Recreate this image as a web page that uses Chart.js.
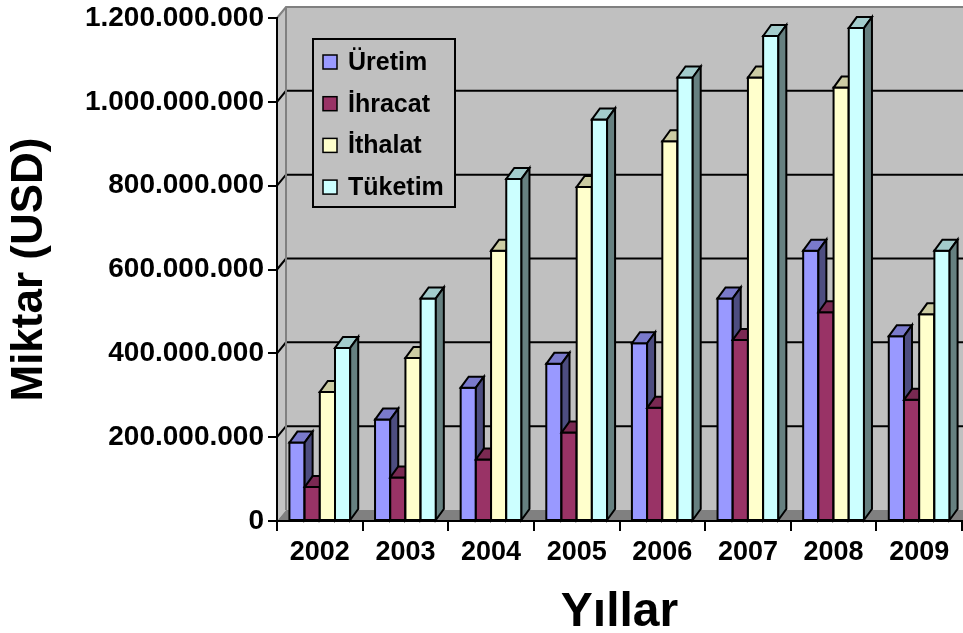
<!DOCTYPE html>
<html lang="tr">
<head>
<meta charset="utf-8">
<title>Miktar (USD) – Yıllar</title>
<script src="https://cdn.jsdelivr.net/npm/chart.js@4/dist/chart.umd.min.js"></script>
<style>
  html, body { margin: 0; padding: 0; background: #ffffff; overflow: hidden; }
  #wrap { width: 963px; height: 633px; position: relative; }
  canvas { display: block; }
</style>
</head>
<body>
<div id="wrap"><canvas id="chart" width="963" height="633"></canvas></div>
<script>
// Yıllar
const categories = ['2002', '2003', '2004', '2005', '2006', '2007', '2008', '2009'];

// Değerler (USD)
const uretim  = [187000000, 242000000, 318000000, 375000000, 424000000, 531000000, 645000000, 441000000];
const ihracat = [ 81000000, 104000000, 147000000, 211000000, 270000000, 432000000, 498000000, 289000000];
const ithalat = [308000000, 389000000, 645000000, 797000000, 906000000, 1058000000, 1034000000, 493000000];
const tuketim = [413000000, 531000000, 816000000, 958000000, 1058000000, 1157000000, 1176000000, 645000000];

const seriesNames = ['Üretim', 'İhracat', 'İthalat', 'Tüketim'];

// Y ekseni etiketleri
const yTickLabels = ['0', '200.000.000', '400.000.000', '600.000.000', '800.000.000', '1.000.000.000', '1.200.000.000'];

// Renkler: ön yüz, üst yüz, yan yüz
const faceColors = [
  { front: '#9999FF', top: '#7A7ACC', side: '#4D4D80' },
  { front: '#993366', top: '#7A2952', side: '#4D1A33' },
  { front: '#FFFFCC', top: '#CCCCA3', side: '#808066' },
  { front: '#CCFFFF', top: '#A3CCCC', side: '#668080' }
];

const FONT = "'Liberation Sans', Arial, Helvetica, sans-serif";
Chart.defaults.font.family = FONT;
Chart.defaults.color = '#000';

// Derinlik kaydırmaları (duvar ve sütunlar)
const WALL_DX = 9, WALL_DY = -11;
const BAR_DX = 8, BAR_DY = -11;

const wallPlugin = {
  id: 'wall3d',
  beforeDraw(chart) {
    const { ctx, chartArea } = chart;
    const { left, top, bottom } = chartArea;
    const W = chart.width;
    const yScale = chart.scales.y;
    ctx.save();
    ctx.fillStyle = '#ffffff';
    ctx.fillRect(0, 0, chart.width, chart.height);

    // arka duvar
    ctx.fillStyle = '#C0C0C0';
    ctx.fillRect(left + WALL_DX, top + WALL_DY, W - left - WALL_DX, bottom - top);

    // sol duvar
    ctx.beginPath();
    ctx.moveTo(left, top);
    ctx.lineTo(left + WALL_DX, top + WALL_DY);
    ctx.lineTo(left + WALL_DX, bottom + WALL_DY);
    ctx.lineTo(left, bottom);
    ctx.closePath();
    ctx.fillStyle = '#C4C4C4';
    ctx.fill();

    // taban
    ctx.beginPath();
    ctx.moveTo(left, bottom);
    ctx.lineTo(left + WALL_DX, bottom + WALL_DY);
    ctx.lineTo(W, bottom + WALL_DY);
    ctx.lineTo(W, bottom);
    ctx.closePath();
    ctx.fillStyle = '#808080';
    ctx.fill();

    // kılavuz çizgileri
    ctx.lineWidth = 2;
    ctx.strokeStyle = '#000';
    yScale.ticks.forEach((t) => {
      if (t.value <= yScale.min || t.value >= yScale.max) return;
      const y = yScale.getPixelForValue(t.value);
      ctx.beginPath();
      ctx.moveTo(left, y);
      ctx.lineTo(left + WALL_DX, y + WALL_DY);
      ctx.lineTo(W, y + WALL_DY);
      ctx.stroke();
    });

    // duvar kenarları
    ctx.strokeStyle = '#808080';
    ctx.lineWidth = 2;
    ctx.beginPath();
    ctx.moveTo(left, top);
    ctx.lineTo(left + WALL_DX, top + WALL_DY);
    ctx.lineTo(W, top + WALL_DY);
    ctx.stroke();
    ctx.beginPath();
    ctx.moveTo(left + WALL_DX, top + WALL_DY);
    ctx.lineTo(left + WALL_DX, bottom + WALL_DY);
    ctx.stroke();
    ctx.restore();
  },

  // sütunlar: ön, üst ve yan yüzler
  beforeDatasetsDraw(chart) {
    const ctx = chart.ctx;
    const n = chart.data.labels.length;
    ctx.save();
    ctx.lineWidth = 2;
    ctx.lineJoin = 'miter';
    ctx.strokeStyle = '#000';
    for (let i = 0; i < n; i++) {
      chart.data.datasets.forEach((ds, d) => {
        const el = chart.getDatasetMeta(d).data[i];
        if (!el) return;
        const { x, y, base, width } = el.getProps(['x', 'y', 'base', 'width'], true);
        const l = x - width / 2, r = x + width / 2;
        const c = faceColors[d];

        // ön yüz
        ctx.beginPath();
        ctx.rect(l, y, r - l, base - y);
        ctx.fillStyle = c.front;
        ctx.fill();
        ctx.stroke();

        // üst yüz
        ctx.beginPath();
        ctx.moveTo(l, y);
        ctx.lineTo(l + BAR_DX, y + BAR_DY);
        ctx.lineTo(r + BAR_DX, y + BAR_DY);
        ctx.lineTo(r, y);
        ctx.closePath();
        ctx.fillStyle = c.top;
        ctx.fill();
        ctx.stroke();

        // yan yüz
        ctx.beginPath();
        ctx.moveTo(r, y);
        ctx.lineTo(r + BAR_DX, y + BAR_DY);
        ctx.lineTo(r + BAR_DX, base + BAR_DY);
        ctx.lineTo(r, base);
        ctx.closePath();
        ctx.fillStyle = c.side;
        ctx.fill();
        ctx.stroke();
      });
    }
    ctx.restore();
    return false;
  },

  // gösterge kutusu
  afterDraw(chart) {
    const ctx = chart.ctx;
    const bx = 313, by = 39, bw = 142, bh = 168;
    ctx.save();
    ctx.fillStyle = '#C0C0C0';
    ctx.fillRect(bx, by, bw, bh);
    ctx.lineWidth = 2;
    ctx.strokeStyle = '#000';
    ctx.strokeRect(bx, by, bw, bh);
    ctx.font = 'bold 25px ' + FONT;
    ctx.textBaseline = 'middle';
    ctx.textAlign = 'left';
    chart.data.datasets.forEach((ds, d) => {
      const cy = 62 + d * 41.7;
      ctx.fillStyle = faceColors[d].front;
      ctx.fillRect(323, cy - 7, 14, 14);
      ctx.lineWidth = 1.5;
      ctx.strokeRect(323, cy - 7, 14, 14);
      ctx.fillStyle = '#000';
      ctx.fillText(ds.label, 348, cy + 1);
    });
    ctx.restore();
  }
};

const seriesValues = [uretim, ihracat, ithalat, tuketim];

new Chart(document.getElementById('chart'), {
  type: 'bar',
  data: {
    labels: categories,
    datasets: seriesValues.map((vals, d) => ({
      label: seriesNames[d],
      data: vals,
      backgroundColor: faceColors[d].front,
      borderColor: '#000',
      borderWidth: 2,
      categoryPercentage: 0.71,
      barPercentage: 1.0
    }))
  },
  options: {
    responsive: false,
    animation: false,
    devicePixelRatio: 1,
    layout: { padding: { left: 0, top: 15, right: 1, bottom: 0 } },
    plugins: {
      legend: { display: false },
      tooltip: { enabled: false }
    },
    scales: {
      x: {
        offset: true,
        grid: { offset: true, drawOnChartArea: false, drawTicks: true, tickLength: 10, color: '#000', lineWidth: 2 },
        border: { display: true, color: '#000', width: 2 },
        ticks: {
          color: '#000',
          font: { size: 27, weight: 'bold', lineHeight: 1.2 },
          padding: 5,
          maxRotation: 0,
          autoSkip: false
        },
        title: {
          display: true,
          text: 'Yıllar',
          color: '#000',
          font: { size: 48, weight: 'bold', lineHeight: 1 },
          padding: { top: 0, bottom: -4 }
        },
        afterFit(s) { s.height = 112; }
      },
      y: {
        min: 0,
        max: 1200000000,
        grid: { drawOnChartArea: false, drawTicks: true, tickLength: 9, color: '#000', lineWidth: 2 },
        border: { display: true, color: '#000', width: 2 },
        ticks: {
          stepSize: 200000000,
          color: '#000',
          font: { size: 28, weight: 'bold', lineHeight: 1 },
          padding: 4,
          callback: (v, i) => yTickLabels[i]
        },
        title: {
          display: true,
          text: 'Miktar (USD)',
          color: '#000',
          font: { size: 44, weight: 'bold', lineHeight: 1 },
          padding: { top: 8, bottom: 0 }
        },
        afterFit(s) { s.width = 277; }
      }
    }
  },
  plugins: [wallPlugin]
});
</script>
</body>
</html>
